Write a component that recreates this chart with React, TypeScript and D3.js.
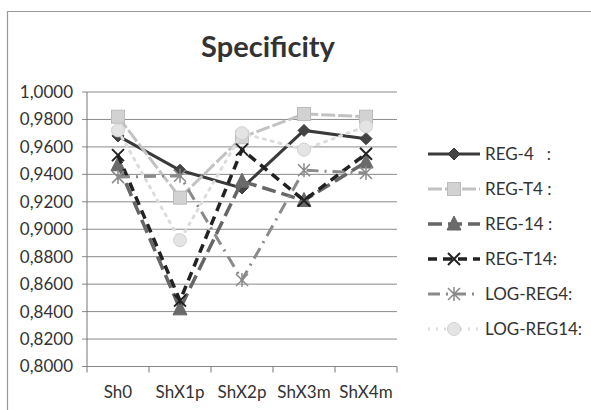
import React, { useEffect, useRef } from 'react';
import * as d3 from 'd3';

const categories = ['Sh0', 'ShX1p', 'ShX2p', 'ShX3m', 'ShX4m'];
const yTicks = [0.8, 0.82, 0.84, 0.86, 0.88, 0.9, 0.92, 0.94, 0.96, 0.98, 1.0];

const reg4 = [0.968, 0.943, 0.930, 0.972, 0.966];
const regT4 = [0.982, 0.923, 0.967, 0.984, 0.982];
const reg14 = [0.947, 0.842, 0.935, 0.921, 0.949];
const regT14 = [0.954, 0.848, 0.958, 0.921, 0.955];
const logReg4 = [0.938, 0.939, 0.863, 0.943, 0.941];
const logReg14 = [0.972, 0.892, 0.970, 0.958, 0.975];

const seriesNames = ['REG-4   :', 'REG-T4 :', 'REG-14 :', 'REG-T14:', 'LOG-REG4:', 'LOG-REG14:'];

const App = () => {
  const ref = useRef<SVGSVGElement | null>(null);

  useEffect(() => {
    if (!ref.current) return;
    const svg = d3.select(ref.current);
    svg.selectAll('*').remove();

    const font = 'Lato, "Open Sans", sans-serif';
    const x0 = 87, x1 = 397, yTop = 92, yBot = 366.5;

    const series = [
      { name: seriesNames[0], values: reg4, color: '#3a3a3a', dash: null, width: 3, marker: 'diamond', mfill: '#444' },
      { name: seriesNames[1], values: regT4, color: '#c2c2c2', dash: '14,3', width: 3, marker: 'square', mfill: '#d2d2d2' },
      { name: seriesNames[2], values: reg14, color: '#666', dash: '14,6', width: 3.5, marker: 'triangle', mfill: '#6a6a6a' },
      { name: seriesNames[3], values: regT14, color: '#222', dash: '9,6', width: 3.5, marker: 'x', mfill: '#222' },
      { name: seriesNames[4], values: logReg4, color: '#8a8a8a', dash: '12,6,2,6', width: 3, marker: 'asterisk', mfill: '#777' },
      { name: seriesNames[5], values: logReg14, color: '#dcdcdc', dash: '2,6', width: 3, marker: 'circle', mfill: '#e4e4e4' },
    ];

    const xScale = d3.scaleBand().domain(categories).range([x0, x1]);
    const yScale = d3.scaleLinear().domain([0.8, 1.0]).range([yBot, yTop]);

    // frame
    svg.append('path')
      .attr('d', `M7.5,410 L7.5,11.5 L591,11.5`)
      .attr('fill', 'none')
      .attr('stroke', '#999')
      .attr('stroke-width', 1.2);

    // title
    svg.append('text')
      .attr('x', 268)
      .attr('y', 57)
      .attr('text-anchor', 'middle')
      .attr('font-family', font)
      .attr('font-weight', 'bold')
      .attr('font-size', 29)
      .attr('fill', '#333')
      .text('Specificity');

    // gridlines
    svg.append('g')
      .selectAll('line')
      .data(yTicks)
      .enter()
      .append('line')
      .attr('x1', x0 - 5)
      .attr('x2', x1)
      .attr('y1', (d) => yScale(d))
      .attr('y2', (d) => yScale(d))
      .attr('stroke', '#8a8a8a')
      .attr('stroke-width', 1);

    // y axis line
    svg.append('line')
      .attr('x1', x0).attr('x2', x0)
      .attr('y1', yTop).attr('y2', yBot)
      .attr('stroke', '#777');

    // y labels
    svg.append('g')
      .selectAll('text')
      .data(yTicks)
      .enter()
      .append('text')
      .attr('x', 73)
      .attr('y', (d) => yScale(d))
      .attr('dy', '0.35em')
      .attr('text-anchor', 'end')
      .attr('font-family', font)
      .attr('font-size', 17)
      .attr('fill', '#333')
      .text((d) => d3.format('.4f')(d).replace('.', ','));

    // x ticks
    const bounds = [x0, ...categories.map((c) => xScale(c)! + xScale.bandwidth())];
    svg.append('g')
      .selectAll('line')
      .data(bounds)
      .enter()
      .append('line')
      .attr('x1', (d) => d).attr('x2', (d) => d)
      .attr('y1', yBot).attr('y2', yBot + 6)
      .attr('stroke', '#777');

    svg.append('g')
      .selectAll('text')
      .data(categories)
      .enter()
      .append('text')
      .attr('x', (d) => xScale(d)! + xScale.bandwidth() / 2)
      .attr('y', 398)
      .attr('text-anchor', 'middle')
      .attr('font-family', font)
      .attr('font-size', 17)
      .attr('fill', '#333')
      .text((d) => d);

    const drawMarker = (g: any, type: string, cx: number, cy: number, fill: string, stroke: string) => {
      if (type === 'diamond') {
        g.append('path').attr('d', `M${cx},${cy - 6} L${cx + 6},${cy} L${cx},${cy + 6} L${cx - 6},${cy} Z`)
          .attr('fill', fill).attr('stroke', stroke);
      } else if (type === 'square') {
        g.append('rect').attr('x', cx - 6.5).attr('y', cy - 6.5).attr('width', 13).attr('height', 13)
          .attr('fill', fill).attr('stroke', '#bbb');
      } else if (type === 'triangle') {
        g.append('path').attr('d', `M${cx},${cy - 8} L${cx + 7},${cy + 6} L${cx - 7},${cy + 6} Z`)
          .attr('fill', fill).attr('stroke', stroke);
      } else if (type === 'x') {
        g.append('path').attr('d', `M${cx - 6},${cy - 6} L${cx + 6},${cy + 6} M${cx + 6},${cy - 6} L${cx - 6},${cy + 6}`)
          .attr('stroke', stroke).attr('stroke-width', 2);
      } else if (type === 'asterisk') {
        g.append('path').attr('d', `M${cx - 6},${cy - 6} L${cx + 6},${cy + 6} M${cx + 6},${cy - 6} L${cx - 6},${cy + 6} M${cx},${cy - 7} L${cx},${cy + 7}`)
          .attr('stroke', stroke).attr('stroke-width', 1.5);
      } else if (type === 'circle') {
        g.append('circle').attr('cx', cx).attr('cy', cy).attr('r', 6.5)
          .attr('fill', fill).attr('stroke', '#d0d0d0');
      }
    };

    const line = d3.line<number>()
      .x((_, i) => xScale(categories[i])! + xScale.bandwidth() / 2)
      .y((d) => yScale(d));

    series.forEach((s, si) => {
      const g = svg.append('g');
      g.append('path')
        .datum(s.values)
        .attr('d', line)
        .attr('fill', 'none')
        .attr('stroke', s.color)
        .attr('stroke-width', s.width)
        .attr('stroke-dasharray', s.dash)
        .attr('stroke-linecap', s.marker === 'circle' ? 'round' : 'butt');
      s.values.forEach((v, i) => {
        drawMarker(g, s.marker, xScale(categories[i])! + xScale.bandwidth() / 2, yScale(v), s.mfill, s.color);
      });

      // legend
      const ly = 154 + si * 35;
      const lg = svg.append('g');
      lg.append('line')
        .attr('x1', 428).attr('x2', 480)
        .attr('y1', ly).attr('y2', ly)
        .attr('stroke', s.color)
        .attr('stroke-width', s.width)
        .attr('stroke-dasharray', s.dash);
      drawMarker(lg, s.marker, 454, ly, s.mfill, s.color);
      lg.append('text')
        .attr('x', 485)
        .attr('y', ly)
        .attr('dy', '0.35em')
        .attr('font-family', font)
        .attr('font-size', 17)
        .attr('fill', '#333')
        .style('white-space', 'pre')
        .text(s.name);
    });
  }, []);

  return (
    <svg ref={ref} width={591} height={410} style={{ position: 'fixed', left: 0, top: 0, background: '#fff' }} />
  );
};

export default App;
